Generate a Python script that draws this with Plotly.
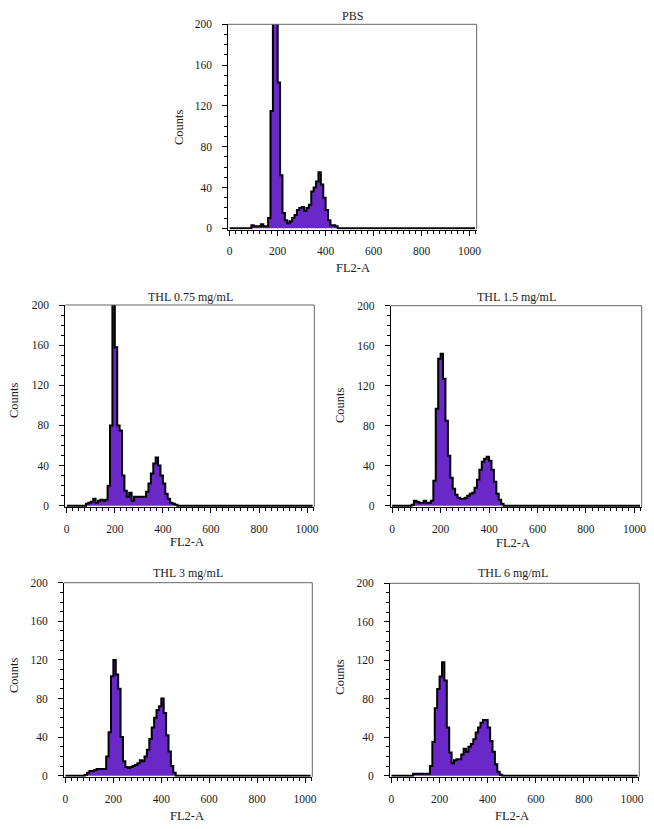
import plotly.graph_objects as go

# ---------------- data ----------------
bin_width = 10
bin_starts = [80, 90, 100, 110, 120, 130, 140, 150, 160,
              170, 180, 190, 200, 210, 220, 230, 240, 250, 260,
              270, 280, 290, 300, 310, 320, 330, 340, 350, 360,
              370, 380, 390, 400, 410, 420, 430, 440, 450, 460]

titles = ["PBS", "THL 0.75 mg/mL", "THL 1.5 mg/mL", "THL 3 mg/mL", "THL 6 mg/mL"]

counts_pbs = [0, 3, 2, 2, 2, 4, 2, 2, 10,
              115, 215, 215, 143, 52, 15, 8, 5, 7, 10,
              13, 18, 20, 21, 17, 20, 23, 36, 40, 46,
              55, 43, 30, 18, 8, 3, 3, 2, 0, 0]
counts_075 = [2, 3, 4, 7, 3, 5, 6, 5, 6,
              20, 80, 205, 158, 80, 75, 30, 15, 9, 13,
              5, 9, 9, 9, 9, 9, 14, 22, 32, 42,
              48, 40, 30, 22, 12, 7, 3, 2, 1, 0]
counts_15 = [1, 5, 4, 3, 3, 5, 3, 3, 5,
             25, 97, 147, 152, 127, 85, 50, 28, 17, 11,
             8, 7, 7, 8, 10, 12, 13, 18, 26, 36,
             44, 47, 49, 45, 36, 24, 12, 6, 2, 0]
counts_3 = [1, 3, 5, 5, 6, 7, 7, 7, 7,
            20, 45, 103, 120, 105, 90, 40, 15, 9, 8,
            9, 10, 11, 13, 16, 15, 20, 27, 38, 50,
            60, 68, 72, 80, 65, 42, 25, 10, 3, 0]
counts_6 = [0, 2, 2, 2, 2, 2, 2, 2, 10,
            35, 70, 90, 103, 118, 99, 50, 24, 13, 16,
            17, 17, 22, 28, 25, 30, 33, 38, 45, 50,
            55, 58, 58, 50, 36, 25, 12, 4, 1, 0]

all_counts = [counts_pbs, counts_075, counts_15, counts_3, counts_6]

x_ticks = [0, 200, 400, 600, 800, 1000]
y_ticks = [0, 40, 80, 120, 160, 200]
channel_max = 1023

# ---------------- geometry (pixels, as seen on screen) ----------------
W, H = 654, 829
OFF = 8  # page body margin
# left, right, top(y=200), base(y=0)
boxes = [
    (228.3, 476.7, 24.3, 228.3),
    (65.3, 314.3, 305.0, 505.7),
    (390.7, 641.7, 305.7, 505.7),
    (64.0, 312.3, 582.7, 775.7),
    (390.0, 639.3, 583.3, 775.7),
]
# text positions: title(x,y), counts(x,y), fl2a(x,y)
texts = [
    ((352.7, 14.5), (178.3, 126.7), (353.0, 268.0)),
    ((190.0, 297.0), (14.0, 400.0), (186.7, 542.0)),
    ((516.7, 297.0), (340.0, 405.0), (512.7, 543.0)),
    ((188.3, 573.0), (14.0, 675.0), (186.7, 816.0)),
    ((513.3, 573.0), (340.0, 676.7), (511.7, 816.0)),
]


def px_x(v):
    return (v - OFF) / W


def px_y(v):
    return 1 - (v - OFF) / H


FONT = "Liberation Serif, Times New Roman, serif"
TXT = "#1a1a1a"
FILL = "#6a28c8"
YMIN = -1.2

fig = go.Figure()
annotations = []
shapes = []
layout_axes = {}

for i, (vals, (l, r, t, b)) in enumerate(zip(all_counts, boxes)):
    n = "" if i == 0 else str(i + 1)
    ppu = (b - t) / 200.0
    bottom_px = b - YMIN * ppu
    xs = [0] + bin_starts + [bin_starts[-1] + bin_width, channel_max]
    ys = [0] + vals + [0, 0]
    fig.add_trace(go.Scatter(
        x=xs, y=ys, mode="lines", line=dict(shape="hv", color="black", width=2),
        fill="tozeroy", fillcolor=FILL, xaxis="x" + n, yaxis="y" + n,
        showlegend=False, hoverinfo="skip"))

    layout_axes["xaxis" + n] = dict(
        domain=[px_x(l), px_x(r)], anchor="y" + n, range=[-6, 1030], automargin=False,
        tickmode="array", tickvals=x_ticks, ticks="outside", ticklen=5,
        tickwidth=1, tickcolor="black", showline=True, linecolor="black",
        linewidth=1, showgrid=False, zeroline=False,
        tickfont=dict(family=FONT, size=11.5, color=TXT), ticklabelstandoff=6,
        minor=dict(tickmode="linear", tick0=0, dtick=25, ticks="outside",
                   ticklen=3, tickcolor="black", showgrid=False),
        fixedrange=True)
    layout_axes["yaxis" + n] = dict(
        domain=[px_y(bottom_px), px_y(t)], anchor="x" + n, range=[YMIN, 200],
        automargin=False,
        tickmode="array", tickvals=y_ticks, ticks="outside", ticklen=5,
        tickwidth=1, tickcolor="black", showline=True, linecolor="black",
        linewidth=1, showgrid=False, zeroline=False,
        tickfont=dict(family=FONT, size=11.5, color=TXT), ticklabelstandoff=8,
        minor=dict(tickmode="linear", tick0=0, dtick=10, ticks="outside",
                   ticklen=3, tickcolor="black", showgrid=False),
        fixedrange=True)

    # top and right frame lines
    shapes.append(dict(type="line", xref="x" + n + " domain", yref="y" + n + " domain",
                       x0=0, x1=1, y0=1, y1=1, line=dict(color="#666666", width=1)))
    shapes.append(dict(type="line", xref="x" + n + " domain", yref="y" + n + " domain",
                       x0=1, x1=1, y0=0, y1=1, line=dict(color="#666666", width=1)))

    (tx, ty), (cx, cy), (fx, fy) = texts[i]
    title_y = min(px_y(ty), 1.0) if i > 0 else 1.0
    annotations.append(dict(x=px_x(tx), y=title_y if i == 0 else px_y(ty),
                            xref="paper", yref="paper",
                            text=titles[i], showarrow=False, xanchor="center",
                            yanchor="top" if i == 0 else "middle", borderpad=0,
                            font=dict(family=FONT, size=12, color=TXT)))
    annotations.append(dict(x=px_x(cx), y=px_y(cy), xref="paper", yref="paper",
                            text="Counts", textangle=-90, showarrow=False,
                            xanchor="center", yanchor="middle",
                            font=dict(family=FONT, size=12.5, color=TXT)))
    annotations.append(dict(x=px_x(fx), y=px_y(fy), xref="paper", yref="paper",
                            text="FL2-A", showarrow=False, xanchor="center", yanchor="middle",
                            font=dict(family=FONT, size=12.5, color=TXT)))

fig.update_layout(
    template="none",
    width=W, height=H, margin=dict(l=0, r=0, t=0, b=0, pad=0, autoexpand=False),
    paper_bgcolor="white", plot_bgcolor="white",
    annotations=annotations, shapes=shapes, **layout_axes)

fig.write_html("out.html", config={"displayModeBar": False})
